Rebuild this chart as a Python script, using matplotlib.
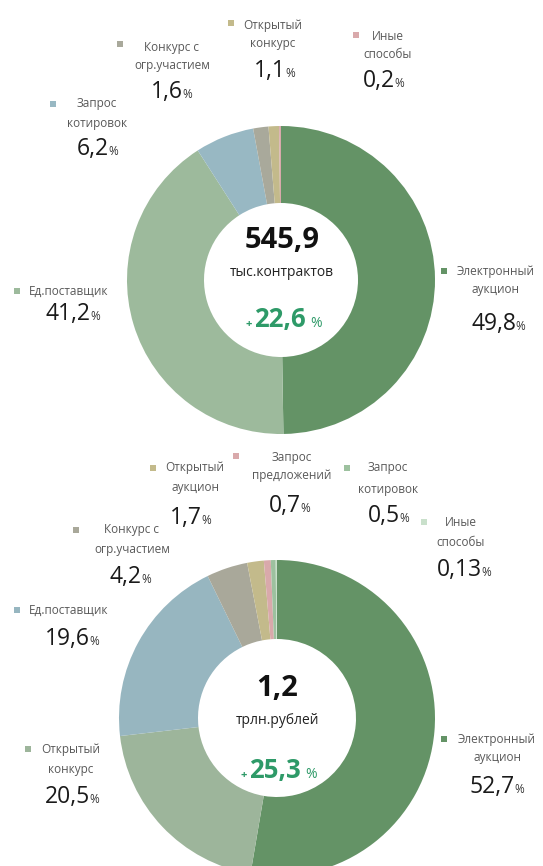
import matplotlib.pyplot as plt

plt.rcParams['font.family'] = ['Open Sans', 'DejaVu Sans']

W, H = 543, 866

# Top donut: number of contracts
top_names = [['Электронный', 'аукцион'], ['Ед.поставщик'], ['Запрос', 'котировок'],
             ['Конкурс с', 'огр.участием'], ['Открытый', 'конкурс'], ['Иные', 'способы']]
top_values = [49.8, 41.2, 6.2, 1.6, 1.1, 0.2]
top_text = ['49,8', '41,2', '6,2', '1,6', '1,1', '0,2']
top_colors = ['#649366', '#9dba9c', '#98b8c3', '#a9a99b', '#c3ba8b', '#d9a9ab']
top_total = '545,9'
top_unit = 'тыс.контрактов'
top_growth = '22,6'

# Bottom donut: contract value
bot_names = [['Электронный', 'аукцион'], ['Открытый', 'конкурс'], ['Ед.поставщик'],
             ['Конкурс с', 'огр.участием'], ['Открытый', 'аукцион'], ['Запрос', 'предложений'],
             ['Запрос', 'котировок'], ['Иные', 'способы']]
bot_values = [52.7, 20.5, 19.6, 4.2, 1.7, 0.7, 0.5, 0.13]
bot_text = ['52,7', '20,5', '19,6', '4,2', '1,7', '0,7', '0,5', '0,13']
bot_colors = ['#649366', '#9db59b', '#97b6c0', '#a9a89a', '#c3ba8b', '#d9a9ab', '#9dc19f', '#c9e0cb']
bot_total = '1,2'
bot_unit = 'трлн.рублей'
bot_growth = '25,3'

# label layout in pixels: marker x, marker y, text centre x, line y's, number end x, baseline y
top_pos = [(444, 271, 496, [271, 290], 515, 330),
           (17, 291, 73, [291], 90, 320),
           (53, 104, 97, [104, 123], 108, 155),
           (120, 44, 172, [47, 66], 182, 98),
           (231, 23, 273, [26, 44], 285, 77),
           (356, 35, 388, [36, 55], 394, 87)]
bot_pos = [(444, 739, 497, [739, 758], 514, 793),
           (28, 749, 71, [749, 769], 89, 803),
           (17, 610, 71, [610], 89, 645),
           (76, 530, 132, [530, 549], 141, 583),
           (153, 468, 195, [468, 488], 201, 524),
           (236, 456, 292, [457, 475], 300, 512),
           (347, 468, 388, [468, 489], 399, 522),
           (424, 522, 461, [523, 542], 481, 576)]

fig = plt.figure(figsize=(W / 100, H / 100), dpi=100)


def donut(cx, cy, r, values, colors):
    ax = fig.add_axes([(cx - r) / W, (H - cy - r) / H, 2 * r / W, 2 * r / H])
    ax.pie(values, colors=colors, startangle=90, counterclock=False,
           wedgeprops=dict(width=0.5, linewidth=0))
    ax.set_xlim(-1, 1)
    ax.set_ylim(-1, 1)
    ax.axis('off')


donut(281, 280, 154, top_values, top_colors)
donut(277, 718, 158, bot_values, bot_colors)

# overlay in pixel coordinates for all texts
ov = fig.add_axes([0, 0, 1, 1])
ov.set_xlim(0, W)
ov.set_ylim(H, 0)
ov.axis('off')

label_c = '#595959'
green = '#2e9a68'


def labels(names, texts, colors, pos):
    for name, txt, col, (mx, my, tx, ys, nx, by) in zip(names, texts, colors, pos):
        ov.scatter([mx], [my], marker='s', s=22, color=col, linewidths=0)
        if len(name) == 1:
            ov.text(mx + 12, ys[0], name[0], ha='left', va='center', fontsize=8.5, color=label_c)
        else:
            for line, y in zip(name, ys):
                ov.text(tx, y, line, ha='center', va='center', fontsize=8.5, color=label_c)
        ov.text(nx + 1, by, txt, ha='right', va='baseline', fontsize=16.5, color='#1a1a1a')
        ov.text(nx, by, '%', ha='left', va='baseline', fontsize=8.5, color='#333333')


labels(top_names, top_text, top_colors, top_pos)
labels(bot_names, bot_text, bot_colors, bot_pos)


def centre(cx, total, unit, growth, y0, base):
    ov.text(cx, y0, total, ha='center', va='center', fontsize=21, fontweight='bold', color='#111111')
    ov.text(cx, y0 + 32, unit, ha='center', va='center', fontsize=10, color='#222222')
    ov.text(cx + 24, base, growth, ha='right', va='baseline', fontsize=18.5,
            fontweight='bold', color=green)
    ov.text(cx - 30, base, '+', ha='right', va='baseline', fontsize=8, fontweight='bold', color=green)
    ov.text(cx + 28, base, '%', ha='left', va='baseline', fontsize=10, color=green)


centre(282, top_total, top_unit, top_growth, 240, 327)
centre(277, bot_total, bot_unit, bot_growth, 688, 778)

fig.savefig('out.png', dpi=100)
